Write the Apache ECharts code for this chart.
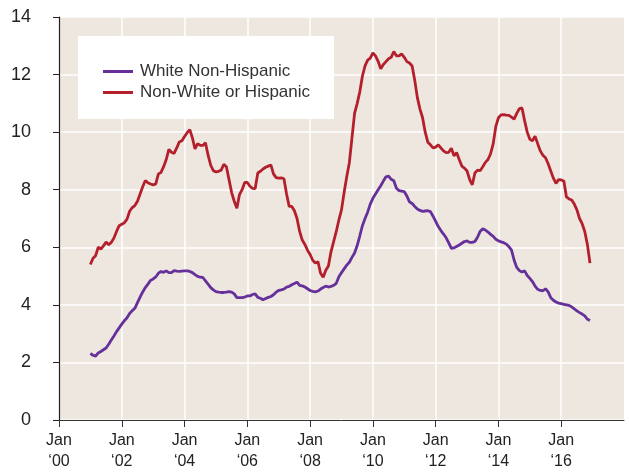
<!DOCTYPE html>
<html>
<head>
<meta charset="utf-8">
<title>Unemployment rate by group</title>
<script src="https://cdn.jsdelivr.net/npm/echarts@6/dist/echarts.min.js"></script>
<style>
  html, body { margin: 0; padding: 0; background: #ffffff; }
  #chart { width: 629px; height: 473px; }
</style>
</head>
<body>
<div id="chart"></div>
<script>
// Monthly series, January 2001 through December 2016
const startYear = 2001;
const seriesNames = ['White Non-Hispanic', 'Non-White or Hispanic'];

const whiteNonHispanic = [
  2.31, 2.25, 2.22, 2.33, 2.38, 2.44, 2.50, 2.63, 2.78, 2.92, 3.07, 3.20,
  3.33, 3.45, 3.55, 3.70, 3.80, 3.88, 4.08, 4.27, 4.45, 4.60, 4.72, 4.85,
  4.90, 4.97, 5.10, 5.16, 5.13, 5.18, 5.12, 5.12, 5.19, 5.17, 5.16, 5.17,
  5.18, 5.18, 5.16, 5.12, 5.05, 4.99, 4.96, 4.95, 4.83, 4.72, 4.60, 4.52,
  4.46, 4.44, 4.43, 4.43, 4.44, 4.46, 4.44, 4.38, 4.25, 4.25, 4.25, 4.27,
  4.31, 4.31, 4.36, 4.38, 4.26, 4.23, 4.18, 4.22, 4.26, 4.29, 4.35, 4.44,
  4.50, 4.52, 4.55, 4.62, 4.64, 4.70, 4.74, 4.79, 4.68, 4.66, 4.62, 4.56,
  4.50, 4.47, 4.45, 4.48, 4.55, 4.60, 4.65, 4.62, 4.64, 4.68, 4.75, 4.98,
  5.12, 5.25, 5.38, 5.48, 5.65, 5.80, 6.06, 6.40, 6.75, 7.00, 7.22, 7.50,
  7.70, 7.85, 8.00, 8.14, 8.30, 8.45, 8.47, 8.36, 8.31, 8.05, 7.97, 7.95,
  7.93, 7.78, 7.58, 7.52, 7.42, 7.33, 7.28, 7.25, 7.26, 7.27, 7.24, 7.08,
  6.90, 6.72, 6.58, 6.46, 6.33, 6.15, 5.96, 5.98, 6.03, 6.08, 6.14, 6.20,
  6.22, 6.17, 6.17, 6.20, 6.35, 6.55, 6.64, 6.60, 6.53, 6.45, 6.38, 6.28,
  6.22, 6.19, 6.16, 6.11, 6.02, 5.90, 5.55, 5.30, 5.19, 5.14, 5.18, 5.02,
  4.92, 4.81, 4.65, 4.54, 4.50, 4.49, 4.56, 4.45, 4.25, 4.16, 4.10, 4.06,
  4.04, 4.02, 4.00, 3.98, 3.93, 3.86, 3.79, 3.73, 3.68, 3.62, 3.50, 3.46
];

const nonWhiteOrHispanic = [
  5.40, 5.62, 5.71, 6.00, 5.94, 6.05, 6.18, 6.09, 6.17, 6.32, 6.55, 6.75,
  6.80, 6.85, 6.98, 7.25, 7.38, 7.45, 7.60, 7.85, 8.10, 8.32, 8.24, 8.20,
  8.17, 8.20, 8.55, 8.60, 8.80, 9.05, 9.40, 9.30, 9.26, 9.45, 9.66, 9.70,
  9.85, 9.98, 10.09, 9.80, 9.42, 9.60, 9.54, 9.54, 9.63, 9.20, 8.85, 8.66,
  8.62, 8.64, 8.68, 8.88, 8.80, 8.35, 7.90, 7.60, 7.36, 7.83, 8.00, 8.25,
  8.25, 8.12, 8.05, 8.04, 8.58, 8.64, 8.72, 8.78, 8.82, 8.86, 8.55, 8.42,
  8.40, 8.41, 8.38, 7.85, 7.42, 7.42, 7.27, 7.00, 6.55, 6.25, 6.10, 5.90,
  5.75, 5.55, 5.45, 5.50, 5.10, 4.96, 5.20, 5.35, 5.85, 6.20, 6.55, 6.95,
  7.30, 7.90, 8.45, 8.94, 9.80, 10.65, 11.00, 11.40, 11.95, 12.30, 12.50, 12.57,
  12.75, 12.65, 12.46, 12.20, 12.35, 12.45, 12.55, 12.60, 12.80, 12.65, 12.65, 12.72,
  12.60, 12.45, 12.40, 12.30, 11.80, 11.20, 10.80, 10.50, 10.00, 9.65, 9.56, 9.45,
  9.48, 9.56, 9.45, 9.35, 9.29, 9.30, 9.44, 9.18, 9.29, 9.05, 8.82, 8.75,
  8.65, 8.35, 8.17, 8.58, 8.68, 8.66, 8.80, 8.95, 9.05, 9.25, 9.60, 10.20,
  10.50, 10.60, 10.61, 10.59, 10.58, 10.52, 10.45, 10.65, 10.82, 10.84, 10.40, 10.00,
  9.75, 9.70, 9.86, 9.60, 9.35, 9.20, 9.11, 8.90, 8.65, 8.40, 8.22, 8.35,
  8.34, 8.30, 7.75, 7.68, 7.64, 7.50, 7.30, 7.00, 6.82, 6.55, 6.10, 5.45
];

// Axis ticks: even years carry a tick and a two-line label
const xTickYears = [2000, 2002, 2004, 2006, 2008, 2010, 2012, 2014, 2016];
const yTicks = [0, 2, 4, 6, 8, 10, 12, 14];

function toPoints(values) {
  return values.map((v, i) => [startYear + i / 12, v]);
}

const font = '"Liberation Sans", Arial, sans-serif';
const chart = echarts.init(document.getElementById('chart'), null, { renderer: 'canvas' });

chart.setOption({
  animation: false,
  backgroundColor: '#ffffff',
  grid: {
    left: 59, right: 5, top: 17, bottom: 53,
    show: true, backgroundColor: '#eee7e0', borderWidth: 0
  },
  graphic: [{
    type: 'rect',
    shape: { x: 78, y: 36, width: 256, height: 83 },
    style: { fill: '#ffffff' },
    z: 5
  }],
  legend: {
    orient: 'vertical',
    left: 98, top: 58,
    itemWidth: 30, itemHeight: 3, itemGap: 4,
    icon: 'rect',
    z: 6,
    textStyle: { fontFamily: font, fontSize: 17, color: '#333333', padding: [0, 0, 0, 2] },
    data: seriesNames
  },
  xAxis: {
    type: 'value',
    min: 2000, max: 2018, interval: 1,
    axisLine: { show: true, onZero: false, lineStyle: { color: '#333333', width: 1 } },
    axisTick: {
      show: true, length: 7, inside: false,
      customValues: xTickYears,
      lineStyle: { color: '#333333', width: 1 }
    },
    axisLabel: {
      show: true,
      customValues: xTickYears,
      margin: 10,
      fontFamily: font, fontSize: 16, lineHeight: 21, color: '#222222',
      formatter: v => 'Jan\n\u2018' + String(Math.round(v)).slice(2)
    },
    splitLine: { show: true, lineStyle: { color: '#ffffff', width: 1.5 } }
  },
  yAxis: {
    type: 'value',
    min: 0, max: 14, interval: 2,
    axisLine: { show: true, lineStyle: { color: '#222222', width: 1.2 } },
    axisTick: { show: true, length: 6, lineStyle: { color: '#222222', width: 1 } },
    axisLabel: {
      margin: 28, fontFamily: font, fontSize: 18, color: '#222222',
      customValues: yTicks
    },
    splitLine: { show: true, lineStyle: { color: '#ffffff', width: 1.5 } }
  },
  series: [
    {
      name: seriesNames[0], type: 'line', showSymbol: false, symbol: 'none',
      data: toPoints(whiteNonHispanic),
      lineStyle: { color: '#65309a', width: 2.8 },
      itemStyle: { color: '#65309a' },
      z: 3
    },
    {
      name: seriesNames[1], type: 'line', showSymbol: false, symbol: 'none',
      data: toPoints(nonWhiteOrHispanic),
      lineStyle: { color: '#b41f2c', width: 2.8 },
      itemStyle: { color: '#b41f2c' },
      z: 3
    }
  ]
});
</script>
</body>
</html>
